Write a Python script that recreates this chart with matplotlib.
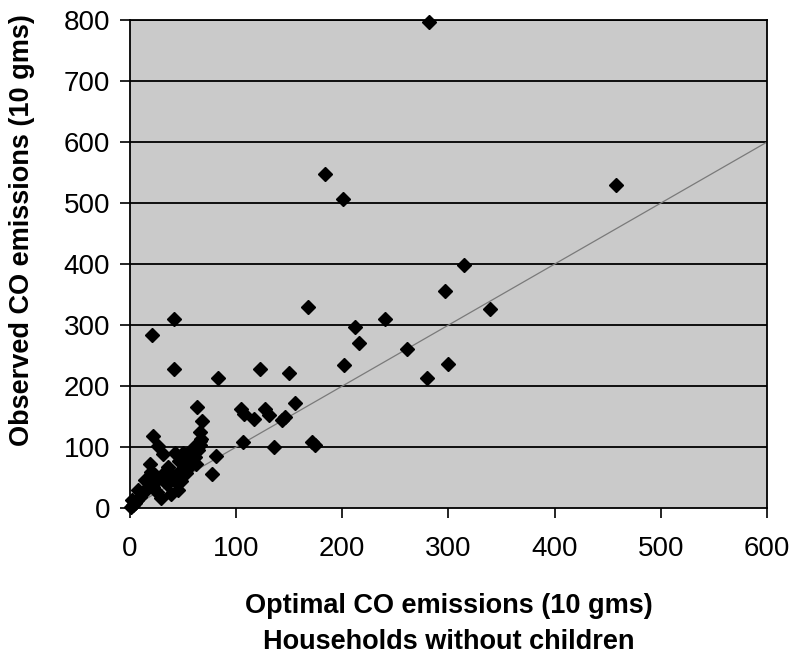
import matplotlib.pyplot as plt
import numpy as np

plt.rcParams['font.family'] = ['Liberation Sans', 'DejaVu Sans']

# optimal (x) vs observed (y) CO emissions, households without children
optimal = [
    282, 458, 184, 201, 315, 297, 339, 240, 212, 216, 261, 202, 300, 280,
    168, 42, 21, 42, 83, 123, 150, 63, 68, 66, 67, 22, 105, 108, 117, 127,
    131, 143, 146, 156, 107, 136, 172, 174, 81, 77,
    1, 3, 5, 7, 10, 2, 12, 15, 8, 14, 19, 18, 22, 26, 24, 28, 30, 33, 36,
    39, 42, 45, 43, 44, 48, 50, 52, 55, 56, 58, 61, 64, 66, 27, 35, 38, 46,
    53, 60, 20, 31, 29, 37, 48, 62, 66,
]
observed = [
    797, 530, 548, 507, 399, 356, 326, 310, 296, 270, 260, 234, 237, 214,
    330, 310, 284, 228, 214, 228, 221, 166, 143, 125, 113, 118, 162, 154, 146, 162,
    152, 145, 150, 172, 109, 100, 108, 104, 85, 56,
    2, 6, 9, 13, 18, 13, 25, 30, 30, 46, 73, 40, 35, 27, 55, 50, 51, 60, 68,
    24, 46, 30, 90, 55, 62, 90, 70, 75, 68, 80, 84, 95, 104, 102, 40, 58, 78,
    58, 98, 60, 88, 17, 48, 45, 72, 110,
]
x_ticks = [0, 100, 200, 300, 400, 500, 600]
y_ticks = [0, 100, 200, 300, 400, 500, 600, 700, 800]

fig = plt.figure(figsize=(7.91, 6.6), dpi=100)
ax = fig.add_axes([0.164, 0.230, 0.806, 0.740])
ax.set_facecolor('#cacaca')

for y in y_ticks[1:]:
    ax.axhline(y, color='black', lw=1.3, zorder=1)
ax.plot([0, 600], [0, 600], color='#7a7a7a', lw=0.9, zorder=2)
ax.plot(optimal, observed, 'D', color='black', ms=7.5, zorder=3, clip_on=False)

ax.set_xlim(0, 600)
ax.set_ylim(0, 800)
ax.set_xticks(x_ticks)
ax.set_yticks(y_ticks)
ax.tick_params(axis='both', labelsize=20, length=7, width=1.2, direction='out')
ax.tick_params(axis='x', pad=13)
ax.tick_params(axis='y', pad=7)
for s in ax.spines.values():
    s.set_linewidth(1.3)

ax.set_xlabel('Optimal CO emissions (10 gms)\nHouseholds without children',
              fontsize=19.5, fontweight='bold', labelpad=22, linespacing=1.5)
ax.set_ylabel('Observed CO emissions (10 gms)', fontsize=19.5, fontweight='bold')
ax.yaxis.set_label_coords(-0.148, 0.57)

plt.savefig('out.png', dpi=100)
